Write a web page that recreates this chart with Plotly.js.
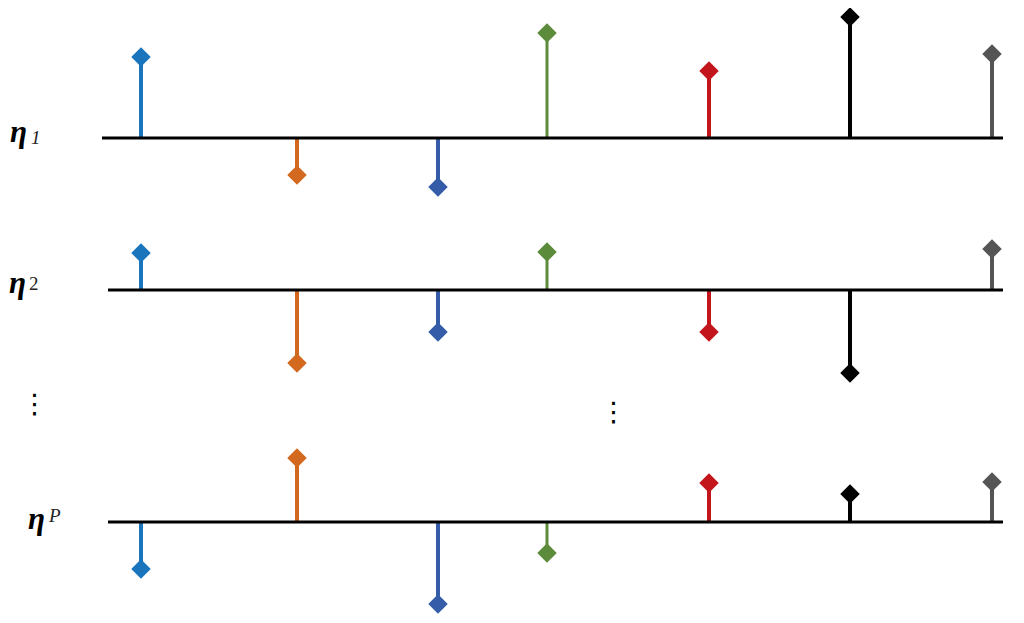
<!DOCTYPE html>
<html>
<head>
<meta charset="utf-8">
<script src="https://cdn.plot.ly/plotly-3.0.1.min.js"></script>
<style>
  body { margin: 0; background: #fff; }
  #plot { width: 1024px; height: 623px; }
</style>
</head>
<body>
<div id="plot"></div>
<script>
// stem positions along the axis and colours of the seven stems
var stemX = [1.41, 2.97, 4.38, 5.47, 7.09, 8.50, 9.92];
var stemColors = ["#1b75bc", "#d2691f", "#345ca8", "#5c8b3c", "#c2161c", "#000000", "#555555"];
var stemWidths = [4, 4, 4, 3, 4, 4, 4];

// values for each row
var eta1 = [81, -37, -49, 105, 67, 121, 84];
var eta2 = [37, -73, -42, 38, -42, -83, 41];
var etaP = [-47, 64, -82, -31, 39, 28, 40];

var rows = [eta1, eta2, etaP];
var yaxes = ["y", "y2", "y3"];

var data = [];
rows.forEach(function (vals, r) {
    vals.forEach(function (v, i) {
        data.push({
            x: [stemX[i], stemX[i]],
            y: [0, v],
            yaxis: yaxes[r],
            mode: "lines",
            line: { color: stemColors[i], width: stemWidths[i] },
            hoverinfo: "skip"
        });
    });
    data.push({
        x: stemX,
        y: vals,
        yaxis: yaxes[r],
        mode: "markers",
        marker: { symbol: "diamond", size: 15, color: stemColors },
        hoverinfo: "skip"
    });
});

var shapes = yaxes.map(function (ya, r) {
    return {
        type: "line", xref: "x", yref: ya,
        x0: r === 0 ? 1.02 : 1.08, x1: 10.03, y0: 0, y1: 0,
        line: { color: "#000", width: 3 }
    };
});

var etaFont = { family: "Liberation Serif", size: 31, color: "#000" };
var subFont = { family: "Liberation Serif", size: 19, color: "#222" };

var annotations = [
    { text: "<b><i>η</i></b>", x: 8, y: 623 - 112, font: etaFont },
    { text: "<i>1</i>", x: 29, y: 623 - 125, font: subFont },
    { text: "<b><i>η</i></b>", x: 7, y: 623 - 263, font: etaFont },
    { text: "2", x: 27, y: 623 - 271, font: subFont },
    { text: "<b><i>η</i></b>", x: 26, y: 623 - 499, font: etaFont },
    { text: "<i>P</i>", x: 46, y: 623 - 503, font: subFont },
    { text: "⋮", x: 34, y: 623 - 403, font: { family: "DejaVu Sans", size: 27, color: "#000" }, xanchor: "center", yanchor: "middle" },
    { text: "⋮", x: 613, y: 623 - 411, font: { family: "DejaVu Sans", size: 27, color: "#000" }, xanchor: "center", yanchor: "middle" }
].map(function (a) {
    return Object.assign({
        xref: "paper", yref: "paper", showarrow: false,
        xanchor: "left", yanchor: "top"
    }, a, { x: a.x / 1024, y: a.y / 623 });
});

var hidden = { visible: false, fixedrange: true };

var layout = {
    width: 1024,
    height: 623,
    margin: { l: 0, r: 0, t: 0, b: 0 },
    paper_bgcolor: "#fff",
    plot_bgcolor: "#fff",
    showlegend: false,
    xaxis: Object.assign({ range: [0, 10.24] }, hidden),
    yaxis: Object.assign({ range: [-60, 130], domain: [1 - 198 / 623, 1 - 8 / 623] }, hidden),
    yaxis2: Object.assign({ range: [-100, 60], domain: [1 - 390 / 623, 1 - 230 / 623] }, hidden),
    yaxis3: Object.assign({ range: [-100, 80], domain: [1 / 623, 181 / 623] }, hidden),
    shapes: shapes,
    annotations: annotations
};

Plotly.newPlot("plot", data, layout, { displayModeBar: false, staticPlot: true });
</script>
</body>
</html>
